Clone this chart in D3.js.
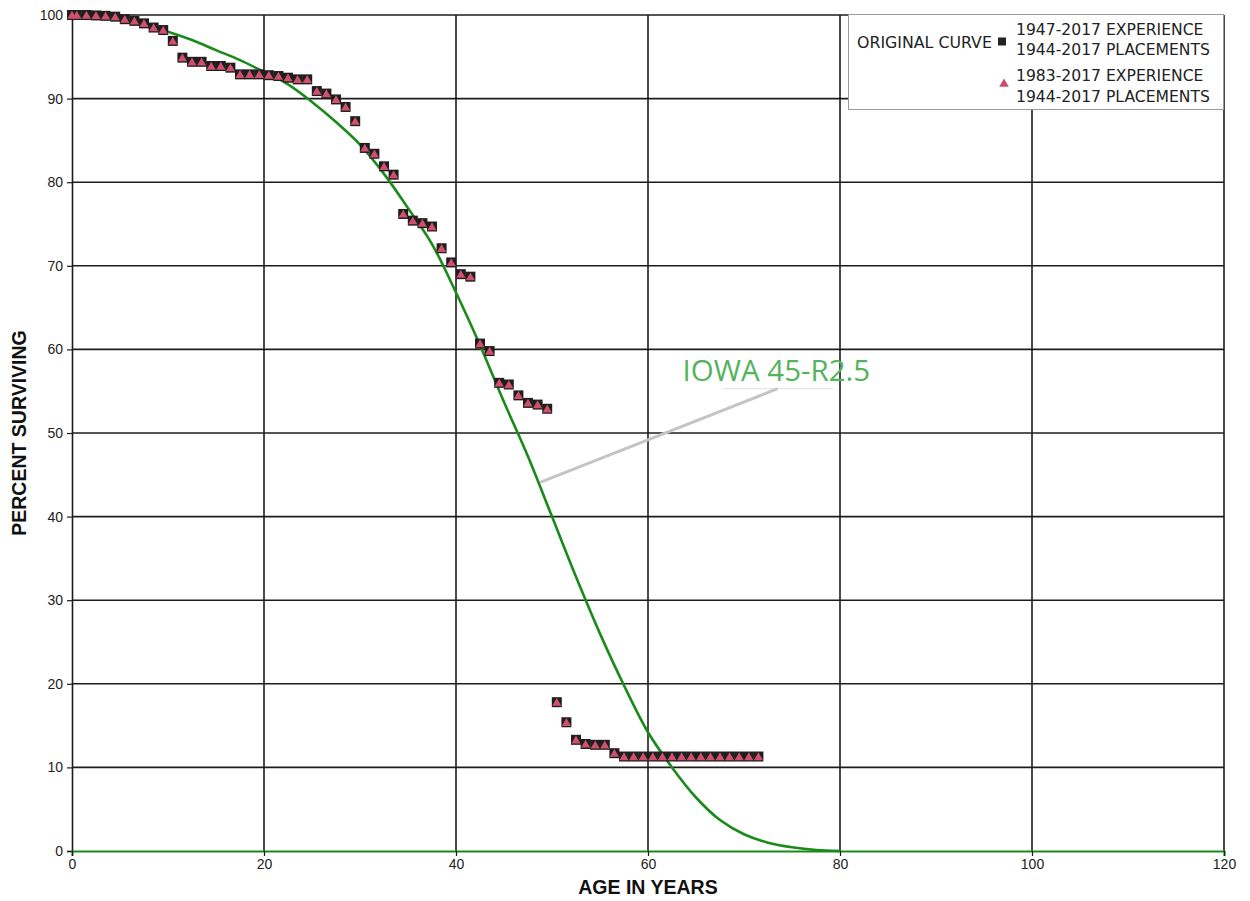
<!DOCTYPE html>
<html>
<head>
<meta charset="utf-8">
<script src="https://cdn.jsdelivr.net/npm/d3@7"></script>
<style>
  html, body { margin: 0; padding: 0; background: #fff; }
  svg { display: block; }
</style>
</head>
<body>
<svg id="chart" width="1250" height="901"></svg>
<script>
// ---------- data ----------
const ages = [0, 0.5, 1.5, 2.5, 3.5, 4.5, 5.5, 6.5, 7.5, 8.5, 9.5, 10.5, 11.5, 12.5, 13.5, 14.5, 15.5, 16.5, 17.5, 18.5, 19.5,
  20.5, 21.5, 22.5, 23.5, 24.5, 25.5, 26.5, 27.5, 28.5, 29.5, 30.5, 31.5, 32.5, 33.5, 34.5, 35.5, 36.5, 37.5, 38.5, 39.5,
  40.5, 41.5, 42.5, 43.5, 44.5, 45.5, 46.5, 47.5, 48.5, 49.5, 50.5, 51.5, 52.5, 53.5, 54.5, 55.5, 56.5, 57.5, 58.5, 59.5,
  60.5, 61.5, 62.5, 63.5, 64.5, 65.5, 66.5, 67.5, 68.5, 69.5, 70.5, 71.5];

const exp1947 = [100, 100, 100, 99.95, 99.9, 99.8, 99.5, 99.3, 99.0, 98.5, 98.2, 96.9, 94.9, 94.4, 94.4, 93.9, 93.9, 93.7, 92.9, 92.9, 92.9,
  92.8, 92.7, 92.5, 92.3, 92.3, 90.9, 90.6, 89.9, 89.0, 87.3, 84.1, 83.4, 81.9, 80.9, 76.2, 75.4, 75.1, 74.7, 72.1, 70.4,
  69.0, 68.7, 60.7, 59.8, 56.0, 55.8, 54.5, 53.6, 53.4, 52.9, 17.8, 15.4, 13.3, 12.8, 12.7, 12.7, 11.7, 11.3, 11.3, 11.3,
  11.3, 11.3, 11.3, 11.3, 11.3, 11.3, 11.3, 11.3, 11.3, 11.3, 11.3, 11.3];

const exp1983 = [100, 100, 100, 99.95, 99.9, 99.8, 99.5, 99.3, 99.0, 98.5, 98.2, 96.9, 94.9, 94.4, 94.4, 93.9, 93.9, 93.7, 92.9, 92.9, 92.9,
  92.8, 92.7, 92.5, 92.3, 92.3, 90.9, 90.6, 89.9, 89.0, 87.3, 84.1, 83.4, 81.9, 80.9, 76.2, 75.4, 75.1, 74.7, 72.1, 70.4,
  69.0, 68.7, 60.7, 59.8, 56.0, 55.8, 54.5, 53.6, 53.4, 52.9, 17.8, 15.4, 13.3, 12.8, 12.7, 12.7, 11.7, 11.3, 11.3, 11.3,
  11.3, 11.3, 11.3, 11.3, 11.3, 11.3, 11.3, 11.3, 11.3, 11.3, 11.3, 11.3];

// Iowa 45-R2.5 original curve
const curveAges = [0, 2.5, 5, 7.5, 10, 12.5, 15, 17.5, 20, 22.5, 25, 27.5, 30, 32.5, 35, 37.5, 40, 42.5, 45, 47.5,
  50, 52.5, 55, 57.5, 60, 62.5, 65, 67.5, 70, 72.5, 75, 77.5, 80];
const curveVals = [100, 99.85, 99.4, 98.8, 98.0, 97.0, 95.8, 94.6, 93.2, 91.7, 89.6, 87.2, 84.5, 81.0, 76.9, 72.6, 66.8, 60.5, 53.7, 47.2,
  40.0, 32.8, 26.0, 19.8, 14.2, 10.0, 6.4, 3.7, 2.0, 1.0, 0.45, 0.12, 0];

const xTicks = [0, 20, 40, 60, 80, 100, 120];
const yTicks = [0, 10, 20, 30, 40, 50, 60, 70, 80, 90, 100];

const legendCurveLabel = "ORIGINAL CURVE";
const legendSeries1 = ["1947-2017 EXPERIENCE", "1944-2017 PLACEMENTS"];
const legendSeries2 = ["1983-2017 EXPERIENCE", "1944-2017 PLACEMENTS"];
const curveLabel = "IOWA 45-R2.5";
const xTitle = "AGE IN YEARS";
const yTitle = "PERCENT SURVIVING";

// ---------- layout ----------
const svg = d3.select("#chart");
const W = 1250, H = 901;
const margin = { left: 72, right: 26, top: 15, bottom: 50 };
const x = d3.scaleLinear().domain([0, 120]).range([margin.left, W - margin.right]);
const y = d3.scaleLinear().domain([0, 100]).range([H - margin.bottom, margin.top]);

svg.append("rect").attr("width", W).attr("height", H).attr("fill", "#fff");

const gridColor = "#1c1c1c";
// grid
svg.append("g").selectAll("line").data(xTicks.filter(d => d > 0)).join("line")
  .attr("x1", d => x(d)).attr("x2", d => x(d))
  .attr("y1", y(0)).attr("y2", y(100))
  .attr("stroke", gridColor).attr("stroke-width", 1.6);
svg.append("g").selectAll("line").data(yTicks.filter(d => d > 0)).join("line")
  .attr("x1", x(0)).attr("x2", x(120))
  .attr("y1", d => y(d)).attr("y2", d => y(d))
  .attr("stroke", gridColor).attr("stroke-width", 1.6);

// axes
const yAxis = svg.append("g").attr("transform", `translate(${x(0)},0)`)
  .call(d3.axisLeft(y).tickValues(yTicks).tickSize(5).tickPadding(4));
yAxis.select(".domain").attr("stroke", gridColor).attr("stroke-width", 1.6);
yAxis.selectAll(".tick line").attr("stroke", gridColor).attr("stroke-width", 1.2);
yAxis.selectAll("text").attr("font-family", "Liberation Sans, Arial, sans-serif").attr("font-size", 14).attr("fill", "#222");

const xAxis = svg.append("g").attr("transform", `translate(0,${y(0)})`)
  .call(d3.axisBottom(x).tickValues(xTicks).tickSize(5).tickPadding(3));
xAxis.select(".domain").attr("stroke", "#1a8a1a").attr("stroke-width", 2);
xAxis.selectAll(".tick line").attr("stroke", gridColor).attr("stroke-width", 1.2);
xAxis.selectAll("text").attr("font-family", "Liberation Sans, Arial, sans-serif").attr("font-size", 14).attr("fill", "#222");

// axis titles
svg.append("text").attr("x", x(60)).attr("y", 894).attr("text-anchor", "middle")
  .attr("font-family", "Liberation Sans, Arial, sans-serif").attr("font-size", 19.5).attr("font-weight", "bold")
  .attr("fill", "#111").text(xTitle);
svg.append("text").attr("transform", `translate(26,${y(50)}) rotate(-90)`).attr("text-anchor", "middle")
  .attr("font-family", "Liberation Sans, Arial, sans-serif").attr("font-size", 19.5).attr("font-weight", "bold")
  .attr("fill", "#111").text(yTitle);

// curve
const line = d3.line().x((d, i) => x(curveAges[i])).y(d => y(d)).curve(d3.curveCatmullRom.alpha(0.5));
svg.append("path").datum(curveVals).attr("d", line)
  .attr("fill", "none").attr("stroke", "#1a8a1a").attr("stroke-width", 2.6);

// markers
const sq = 10;
svg.append("g").selectAll("rect").data(exp1947).join("rect")
  .attr("x", (d, i) => x(ages[i]) - sq / 2).attr("y", d => y(d) - sq / 2)
  .attr("width", sq).attr("height", sq).attr("fill", "#1e1e1e");
const tri = d3.symbol().type(d3.symbolTriangle).size(36);
svg.append("g").selectAll("path").data(exp1983).join("path")
  .attr("d", tri)
  .attr("transform", (d, i) => `translate(${x(ages[i])},${y(d) + 1})`)
  .attr("fill", "#d0506e");

// annotation pointer
svg.append("line").attr("x1", x(67.8)).attr("x2", x(79.3)).attr("y1", y(55.3)).attr("y2", y(55.3))
  .attr("stroke", "#e6e6ea").attr("stroke-width", 1.2);
svg.append("line").attr("x1", x(48.75)).attr("y1", y(44.1)).attr("x2", x(73.5)).attr("y2", y(55.3))
  .attr("stroke", "#c4c4c4").attr("stroke-width", 3);
svg.append("text").attr("x", x(63.6)).attr("y", y(56.2))
  .attr("font-family", "Open Sans, Noto Sans, sans-serif").attr("font-size", 29.5)
  .attr("fill", "#55b35c").text(curveLabel);

// legend
const lg = svg.append("g");
lg.append("rect").attr("x", 848.5).attr("y", 14.5).attr("width", 375).attr("height", 95)
  .attr("fill", "#fff").attr("stroke", "#9a9a9a").attr("stroke-width", 1);
const lf = "DejaVu Sans, Verdana, sans-serif";
lg.append("text").attr("x", 857).attr("y", 48).attr("font-family", lf).attr("font-size", 15.8)
  .attr("fill", "#222").text(legendCurveLabel);
lg.append("rect").attr("x", 998).attr("y", 37.5).attr("width", 8).attr("height", 8).attr("fill", "#222");
lg.selectAll("text.s1").data(legendSeries1).join("text").attr("class", "s1")
  .attr("x", 1016).attr("y", (d, i) => 35 + i * 20).attr("font-family", lf).attr("font-size", 15.6)
  .attr("fill", "#222").text(d => d);
lg.append("path").attr("d", d3.symbol().type(d3.symbolTriangle).size(40))
  .attr("transform", "translate(1004,84)").attr("fill", "#c8506a");
lg.selectAll("text.s2").data(legendSeries2).join("text").attr("class", "s2")
  .attr("x", 1016).attr("y", (d, i) => 81 + i * 21).attr("font-family", lf).attr("font-size", 15.6)
  .attr("fill", "#222").text(d => d);
</script>
</body>
</html>
